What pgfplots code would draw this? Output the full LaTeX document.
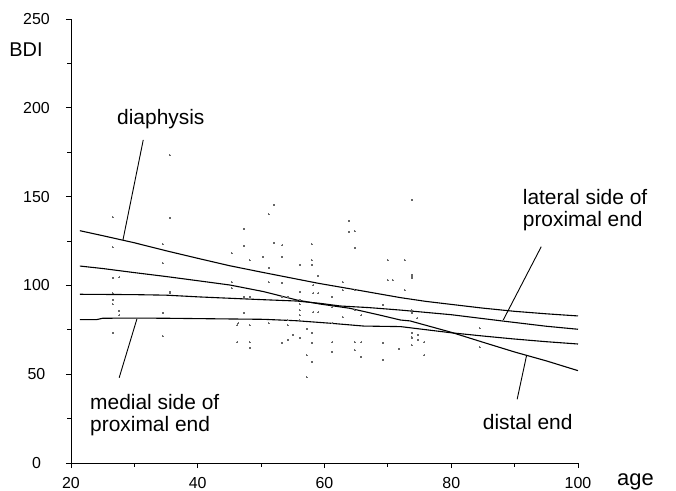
\documentclass[border=0pt]{standalone}
\usepackage{fontspec}
\setmainfont{Liberation Sans}
\usepackage{pgfplots}
\pgfplotsset{compat=1.18}
\begin{document}
\begin{tikzpicture}[x=1bp,y=1bp]
\begin{axis}[at={(0,0)},anchor=south west,scale only axis,
  width=507bp,height=444bp,
  xmin=20,xmax=100,ymin=0,ymax=250,
  axis x line*=bottom, axis y line*=left,
  xtick={20,40,...,100}, ytick={0,50,...,250},
  minor x tick num=1, minor y tick num=1,
  tick align=outside, major tick length=5bp, minor tick length=3.5bp,
  tick style={black,line width=0.8bp},
  axis line style={line width=0.9bp},
  xticklabel={\fontsize{16}{18}\selectfont\rule{0pt}{16.5bp}\pgfmathprintnumber[assume math mode=true]{\tick}},
  yticklabel={\fontsize{16}{18}\selectfont\makebox[24bp][c]{\pgfmathprintnumber[assume math mode=true]{\tick}}\kern14bp},
  clip=false]
% scatter of individual measurements
\addplot[only marks,mark=*,mark size=0.45bp,draw=black!60,fill=black!60,line width=0pt] coordinates {
(35.6,173.4)(26.6,138.5)(35.6,138.0)(26.6,121.6)(34.5,123.3)(34.5,112.6)
(26.6,104.2)(27.6,104.7)(35.6,96.3)(26.6,91.8)(26.6,89.5)(27.6,85.6)(27.6,83.3)
(34.5,84.5)(26.6,73.2)(34.5,71.5)(26.6,95.7)(35.6,95.7)(45.4,118.2)(45.4,101.9)
(45.4,98.5)(46.4,78.8)(52.0,145.3)(51.2,140.2)(47.3,131.8)(47.3,122.2)(48.2,114.3)
(50.3,116.0)(51.2,109.8)(52.0,123.9)(53.3,122.7)(53.3,116.0)(58.0,123.3)(58.0,114.3)
(58.0,111.5)(56.1,111.5)(63.9,136.3)(63.9,130.1)(64.8,130.6)(64.8,121.1)(59.0,105.3)
(70.0,114.3)(72.7,114.3)(73.8,148.1)(73.8,105.3)(70.0,103.0)(70.8,103.0)
(46.2,77.7)(46.2,68.1)(48.2,77.7)(48.2,68.1)(48.2,64.8)(53.3,67.6)(54.2,69.3)
(54.2,77.7)(55.0,72.1)(56.1,70.4)(57.2,75.5)(58.0,73.2)(58.0,67.6)(57.2,60.8)
(58.0,56.9)(57.2,48.4)(61.2,68.1)(61.2,62.5)(64.8,68.1)(64.8,63.6)(65.8,68.1)
(65.8,59.7)(69.2,67.6)(69.2,58.0)(71.8,64.2)(73.8,70.9)(73.8,66.4)(74.8,72.1)
(74.8,69.3)(75.7,68.1)(75.7,60.8)
(56.1,96.3)(56.1,91.8)(56.1,89.5)(56.1,86.1)(56.1,83.3)(56.1,80.5)
(61.2,93.5)(61.2,87.8)(62.9,101.9)(62.9,97.4)(64.8,97.4)(64.8,86.1)(65.8,83.3)
(69.2,89.0)(72.7,97.4)(73.8,86.1)(47.3,93.5)(47.3,84.5)(48.2,93.5)(53.3,93.5)
(53.3,101.4)(54.2,93.5)(54.2,80.5)(51.2,101.9)(51.2,78.8)(58.2,100.2)(58.2,95.7)
(58.2,85.0)(59.0,95.7)(59.0,85.0)(61.2,78.8)(62.9,82.2)(73.8,105.9)(73.8,104.2)
(73.8,73.2)(73.8,70.4)(84.5,76.0)(84.5,65.3)(73.8,84.5)(74.6,81.6)
};
% diaphysis
\addplot[black,line width=1.1bp] coordinates {(21.4,130.8)(25,128)(30,124)(35,119.5)(40.3,115)(45,111.1)
(50,107.5)(55,104)(59,101.2)(65,97.5)(72,93.1)(76,91)(80,89.3)(85,87.2)(90,85.4)(95,84)(100,82.8)};
% distal end
\addplot[black,line width=1.1bp] coordinates {(21.4,110.9)(25,109.5)(30,107.2)(35,105)(40.3,102.5)(45.1,100.2)
(50.4,96.5)(55.6,91.8)(59.3,89.5)(64,87.1)(68.7,83.3)(72,80.5)(73.5,80)(79.8,73.8)
(85,68)(90,62.5)(95,57.5)(100,52)};
% lateral side of proximal end
\addplot[black,line width=1.1bp] coordinates {(21.4,95)(30,94.8)(35,94.5)(40.3,93.5)(46.7,92.5)(50,92)(55.6,91.2)
(59.3,89.9)(62.5,88.4)(67,87.5)(72,86.1)(80,83.5)(88.2,79.9)(95,77)(100,75.3)};
% medial side of proximal end
\addplot[black,line width=1.1bp] coordinates {(21.4,80.7)(24,80.7)(25,81.5)(30,81.6)(35,81.5)(40,81.3)(45.1,81.1)
(50.4,80.9)(55.6,80.1)(60.9,78.7)(66.2,77.1)(72,76.8)(79.8,73.4)(85,71.5)(90,69.8)(95,68.3)(100,67)};
% leader lines
\draw[line width=0.9bp] (axis cs:31.4,181.9) -- (axis cs:28.2,125.6);
\draw[line width=0.9bp] (axis cs:27.6,48.0) -- (axis cs:30.4,81.1);
\draw[line width=0.9bp] (axis cs:94.2,121.8) -- (axis cs:88.2,80.5);
\draw[line width=0.9bp] (axis cs:91.9,60.8) -- (axis cs:90.4,35.9);
% labels
\begin{scope}[every node/.style={inner sep=0pt,anchor=base west,font=\fontsize{21}{22}\selectfont}]
\node at (axis cs:27.26,190.8) {diaphysis};
\node at (axis cs:23.0,30.4) {medial side of};
\node at (axis cs:23.0,18.0) {proximal end};
\node at (axis cs:91.27,145.3) {lateral side of};
\node at (axis cs:91.27,132.9) {proximal end};
\node at (axis cs:84.96,18.6) {distal end};
\end{scope}
\node[inner sep=0pt,anchor=center,font=\fontsize{20}{22}\selectfont] at (axis cs:20,232.5) [xshift=-45bp] {BDI};
\node[inner sep=0pt,anchor=base west,font=\fontsize{22}{24}\selectfont] at (axis cs:100,0) [xshift=39bp,yshift=-22bp] {age};
\end{axis}
\pgfresetboundingbox
\path[use as bounding box] (-71bp,-28bp) rectangle (605bp,463bp);
\end{tikzpicture}
\end{document}
